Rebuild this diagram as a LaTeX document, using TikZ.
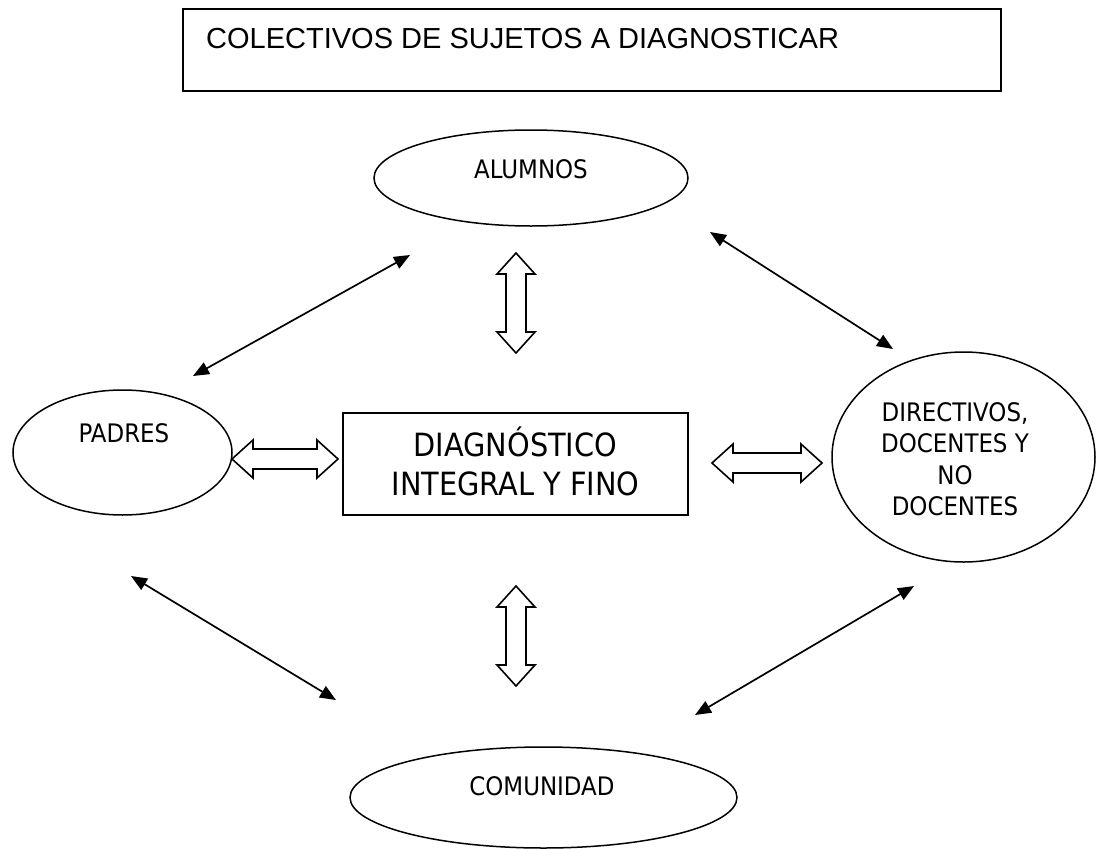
\documentclass[tikz,border=0pt]{standalone}
\usepackage{fontspec}
\setmainfont{Liberation Sans}
\newfontfamily\tah{DejaVu Sans Condensed}
\usetikzlibrary{shapes.geometric,arrows.meta}
\tikzset{
  ell/.style={draw,ellipse,line width=1.5pt,inner sep=0pt},
  lbl/.style={font=\tah\fontsize{25.5pt}{31.5pt}\selectfont,align=center,inner sep=0pt},
  boxlbl/.style={font=\tah\fontsize{32pt}{39pt}\selectfont,align=center,inner sep=0pt},
  link/.style={line width=1.7pt,{Triangle[length=16pt,width=13pt]}-{Triangle[length=16pt,width=13pt]}},
  hollowline/.style={draw,line width=1.6pt,line join=miter,fill=white},
  pics/dbl/.style={code={
    \pgfmathsetmacro\hl{#1/2}\pgfmathsetmacro\bl{#1/2-21}
    \path[hollowline] (0,-\hl) -- (-19,-\bl) -- (-10,-\bl) -- (-10,\bl) -- (-19,\bl) -- (0,\hl)
      -- (19,\bl) -- (10,\bl) -- (10,-\bl) -- (19,-\bl) -- cycle;
  }}
}
\begin{document}
\begin{tikzpicture}[x=1pt,y=-1pt]
\useasboundingbox[fill=white] (0,0) rectangle (1101,849);

% title
\node[draw,line width=1.6pt,minimum width=818pt,minimum height=82pt,inner sep=0pt] (titlebox) at (592,50) {};
\node[anchor=base west,inner sep=0pt,font=\fontsize{29pt}{34pt}\selectfont] (titletext) at (206,48) {COLECTIVOS DE SUJETOS A DIAGNOSTICAR};

% ellipses
\node[ell,minimum width=314pt,minimum height=96pt] (alumnos) at (531,178) {};
\node[lbl,anchor=base] (alumnosT) at (531,178) {ALUMNOS};

\node[ell,minimum width=219pt,minimum height=125pt] (padres) at (122.5,452.5) {};
\node[lbl,anchor=base] (padresT) at (124,442) {PADRES};

\node[ell,minimum width=263pt,minimum height=210pt] (directivos) at (963.5,457) {};
\node[lbl] (directivosT) at (955,459) {DIRECTIVOS,\\DOCENTES Y\\NO\\DOCENTES};

\node[ell,minimum width=387pt,minimum height=101pt] (comunidad) at (543.5,797.5) {};
\node[lbl,anchor=base] (comunidadT) at (542,795) {COMUNIDAD};

% center box
\node[draw,line width=1.6pt,minimum width=345pt,minimum height=102pt,inner sep=0pt,boxlbl] (diag) at (515.5,464) {DIAGN\smash{Ó}STICO\\INTEGRAL Y FINO};

% hollow double arrows
\pic (arrTop) at (516,303) {dbl=100};
\pic (arrBot) at (516,636) {dbl=100};
\pic[rotate=90] (arrLeft) at (285,459) {dbl=106};
\pic[rotate=90] (arrRight) at (767,463) {dbl=110};

% thin double arrows
\coordinate (pa1) at (193,376);
\coordinate (pa2) at (410,255);
\coordinate (ad1) at (710,232);
\coordinate (ad2) at (893,349);
\coordinate (pc1) at (131,576);
\coordinate (pc2) at (336,700);
\coordinate (cd1) at (695,715);
\coordinate (cd2) at (914,586);
\draw[link] (pa1) -- (pa2);
\draw[link] (ad1) -- (ad2);
\draw[link] (pc1) -- (pc2);
\draw[link] (cd1) -- (cd2);
\end{tikzpicture}
\end{document}
